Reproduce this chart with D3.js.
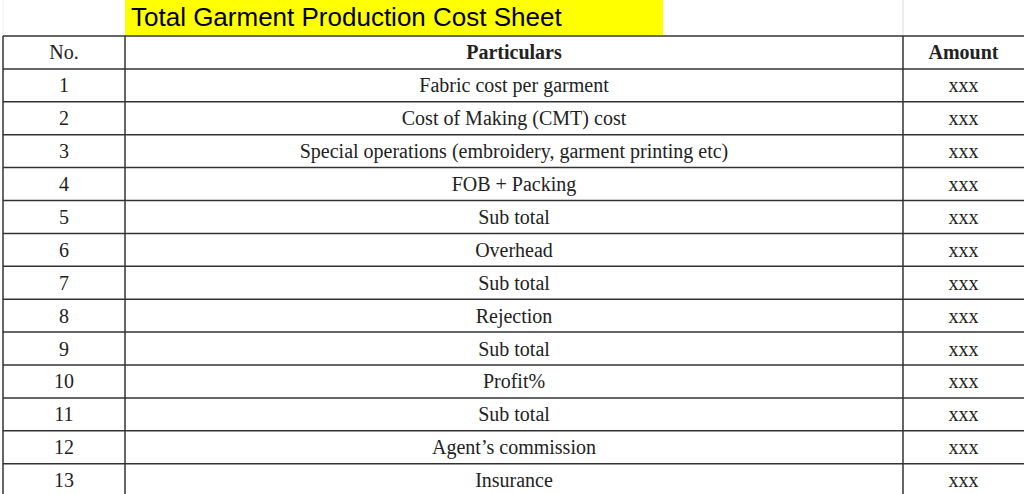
<!DOCTYPE html>
<html><head><meta charset="utf-8">
<script src="https://cdn.jsdelivr.net/npm/d3@7"></script>
<style>body{margin:0;background:#fff}svg{display:block}</style>
</head><body>
<div id="chart"></div>
<script>
const title = "Total Garment Production Cost Sheet";
const headers = ["No.", "Particulars", "Amount"];
const numbers = ["1","2","3","4","5","6","7","8","9","10","11","12","13"];
const particulars = ["Fabric cost per garment", "Cost of Making (CMT) cost",
  "Special operations (embroidery, garment printing etc)", "FOB + Packing", "Sub total",
  "Overhead", "Sub total", "Rejection", "Sub total", "Profit%", "Sub total",
  "Agent\u2019s commission", "Insurance"];
const amounts = numbers.map(() => "xxx");

const width = 1024, height = 494;
const tableTop = 36, rowH = 32.9;
const colEdges = [3, 125, 903, 1024];

let svg = d3.select("#chart").append("svg")
    .attr("width", width).attr("height", height);

// faint sheet gridlines above table
svg.append("line").attr("x1", 903).attr("x2", 903).attr("y1", 0).attr("y2", tableTop)
    .attr("stroke", "#ddd");
svg.append("line").attr("x1", 3).attr("x2", 3).attr("y1", 0).attr("y2", tableTop)
    .attr("stroke", "#eee");

// title
svg.append("rect").attr("x", 125).attr("y", 0).attr("width", 538).attr("height", tableTop - 1)
    .attr("fill", "#ffff00");
svg.append("text").attr("x", 131).attr("y", 26)
    .style("font-family", "Liberation Sans, Arial, sans-serif").style("font-size", "26px")
    .text(title);

let rows = [headers].concat(numbers.map((n, i) => [n, particulars[i], amounts[i]]));
let y = d3.scaleLinear().domain([0, rows.length]).range([tableTop, tableTop + rows.length * rowH]);

// horizontal lines
svg.selectAll(".h").data(d3.range(rows.length + 1)).enter().append("line")
    .attr("x1", 3).attr("x2", width).attr("y1", d => y(d)).attr("y2", d => y(d))
    .attr("stroke", "#333").attr("stroke-width", 1.5);
// vertical lines
svg.selectAll(".v").data(colEdges.slice(0, 3)).enter().append("line")
    .attr("x1", d => d).attr("x2", d => d).attr("y1", tableTop).attr("y2", y(rows.length))
    .attr("stroke", "#333").attr("stroke-width", 1.5);

rows.forEach((r, i) => {
    r.forEach((c, j) => {
        svg.append("text")
            .attr("x", (colEdges[j] + colEdges[j + 1]) / 2)
            .attr("y", y(i) + rowH / 2 + 7)
            .attr("text-anchor", "middle")
            .style("font-family", "Liberation Serif, Times New Roman, serif")
            .style("font-size", "20px")
            .style("font-weight", i === 0 && j > 0 ? "bold" : "normal")
            .attr("fill", "#222")
            .text(c);
    });
});
</script>
</body></html>
